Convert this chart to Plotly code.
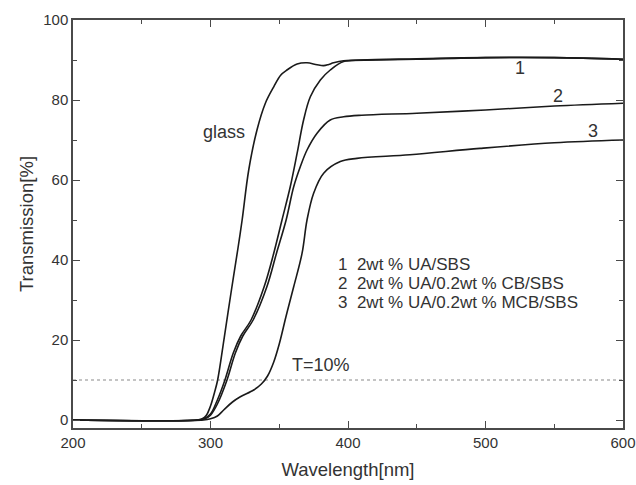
import plotly.graph_objects as go

# ---- data ----
glass_wl = [200, 290, 294, 297, 300, 303, 305.2, 310, 315, 320, 323, 327.8, 333.8, 339.9, 346, 351, 355.6, 363, 370.2, 377.5, 382.3, 386, 389.5, 396.8, 420, 450, 500, 550, 600]
glass_T = [0, 0, 0.3, 1.2, 3.5, 7.0, 10, 20.6, 32, 43, 50, 62.5, 72.5, 79.2, 83.3, 86.2, 87.5, 89.0, 89.3, 88.8, 88.6, 88.9, 89.3, 89.8, 90.0, 90.2, 90.6, 90.6, 90.2]

s1_wl = [200, 290, 295, 300, 305, 310.5, 316.5, 322, 329.5, 339, 346, 352, 358, 363, 367.7, 372.6, 379.9, 387.1, 396.8, 410, 450, 500, 550, 600]
s1_T = [0, 0, 0.3, 1.5, 5, 10, 16.7, 21, 25, 33.3, 41.7, 50, 58.3, 66.7, 75, 80.8, 85, 87.5, 89.6, 90.0, 90.3, 90.6, 90.6, 90.2]

s2_wl = [200, 292, 296, 300, 305, 312, 318, 323.5, 331, 341, 348, 355, 360.5, 365.3, 370.2, 377.5, 387.1, 396.8, 410, 450, 500, 550, 600]
s2_T = [0, 0, 0.3, 1.2, 4, 10, 16.7, 21, 25, 33.3, 41.7, 50, 58.3, 63.3, 67.5, 71.7, 75, 75.8, 76.2, 76.7, 77.5, 78.5, 79.2]

s3_wl = [200, 295, 300, 305, 309.6, 316, 321.7, 331.4, 337, 341.5, 346, 350, 355, 360.5, 366.6, 370.2, 375, 382.3, 394.4, 406.5, 445, 496, 550, 600]
s3_T = [0, 0, 0.3, 1.0, 2.5, 4.5, 5.8, 7.5, 9, 11, 14.5, 19, 26, 33.3, 41.7, 50, 56.7, 61.7, 64.6, 65.4, 66.3, 67.9, 69.3, 70.0]

ref_wl = [200, 600]
ref_T = [10, 10]

curve_labels = ["glass", "1", "2", "3", "T=10%"]
curve_label_x = [309.6, 525.2, 553, 578.5, 380]
curve_label_y = [72.1, 88.1, 81.1, 72.3, 13.8]

legend_lines = ["1\u00a0\u00a02wt % UA/SBS",
                "2\u00a0\u00a02wt % UA/0.2wt % CB/SBS",
                "3\u00a0\u00a02wt % UA/0.2wt % MCB/SBS"]
legend_x = 391
legend_y = [38.9, 34.2, 29.5]

x_ticks = [200, 300, 400, 500, 600]
y_ticks = [0, 20, 40, 60, 80, 100]

# ---- figure ----
LINE = "#1a1a1a"
TXT = "#333333"
FONT = "Liberation Sans, Arial, sans-serif"

fig = go.Figure()
fig.add_trace(go.Scatter(x=ref_wl, y=ref_T, mode="lines",
                         line=dict(color="#8a8a8a", width=1.2, dash="dot"), hoverinfo="skip"))
for wl, T in [(glass_wl, glass_T), (s1_wl, s1_T), (s2_wl, s2_T), (s3_wl, s3_T)]:
    fig.add_trace(go.Scatter(x=wl, y=T, mode="lines",
                             line=dict(color=LINE, width=1.6, shape="spline", smoothing=1.0)))

for t, x, y in zip(curve_labels, curve_label_x, curve_label_y):
    fig.add_annotation(x=x, y=y, text=t, showarrow=False, xanchor="center", yanchor="middle",
                       font=dict(family=FONT, size=18, color=TXT))
for t, y in zip(legend_lines, legend_y):
    fig.add_annotation(x=legend_x, y=y, text=t, showarrow=False, xanchor="left", yanchor="middle",
                       font=dict(family=FONT, size=17, color=TXT))

axis_common = dict(showline=True, linecolor="#4a4a4a", linewidth=1.5, mirror="ticks",
                   ticks="inside", ticklen=7, tickwidth=1.3, tickcolor="#4a4a4a",
                   showgrid=False, zeroline=False,
                   tickfont=dict(family=FONT, size=15, color=TXT))

fig.update_xaxes(range=[200, 600], tickvals=x_ticks,
                 minor=dict(dtick=50, tick0=200, ticks="inside", ticklen=4, tickwidth=1.2, tickcolor="#4a4a4a"),
                 title=dict(text="Wavelength[nm]", font=dict(family=FONT, size=18.5, color=TXT), standoff=13),
                 **axis_common)
fig.update_yaxes(range=[-2, 100], tickvals=y_ticks,
                 minor=dict(dtick=10, tick0=0, ticks="inside", ticklen=4, tickwidth=1.2, tickcolor="#4a4a4a"),
                 title=dict(text="Transmission[%]", font=dict(family=FONT, size=18.5, color=TXT), standoff=5),
                 **axis_common)

fig.update_layout(width=636, height=485, showlegend=False,
                  margin=dict(l=72.5, r=13, t=20, b=57, autoexpand=False),
                  paper_bgcolor="white", plot_bgcolor="white")

fig.write_html("out.html", config={"displayModeBar": False},
               post_script="document.body.style.margin='0';document.body.style.overflow='hidden';")
